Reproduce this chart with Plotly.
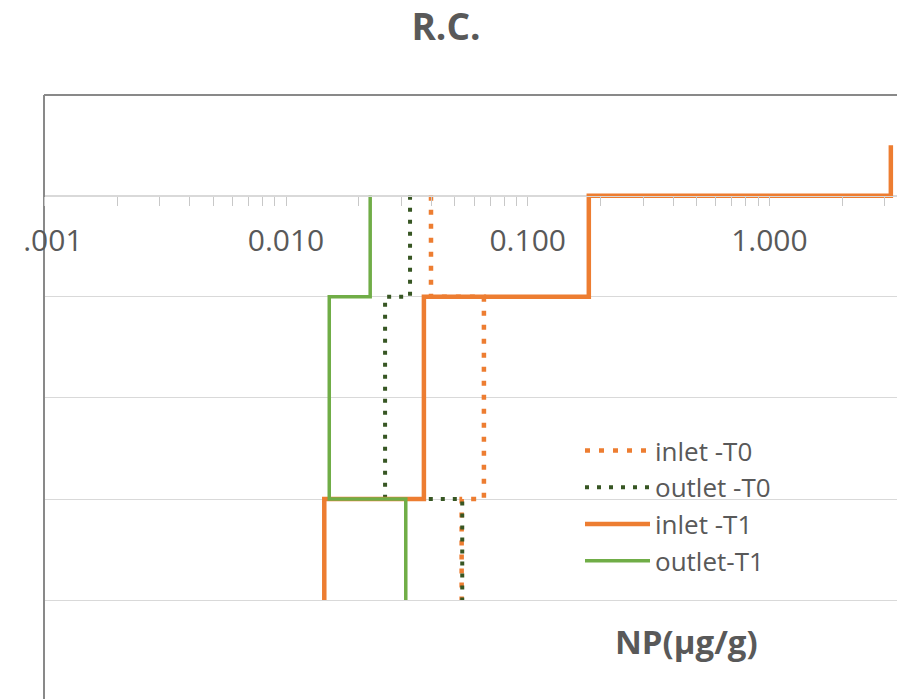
import math
import plotly.graph_objects as go

# ---- data ----
layer_bottom = 4
inlet_T0_tops = [0, 1, 2, 3]
inlet_T0_vals = [0.0398, 0.0659, 0.0659, 0.0533]
outlet_T0_tops = [0, 1, 2, 3]
outlet_T0_vals = [0.0326, 0.0257, 0.0257, 0.0536]
inlet_T1_tops = [-0.5, 0, 1, 2, 3]
inlet_T1_vals = [3.18, 0.179, 0.0372, 0.0372, 0.0144]
outlet_T1_tops = [0, 1, 2, 3]
outlet_T1_vals = [0.0223, 0.0151, 0.0151, 0.0313]

series_names = ["inlet -T0", "outlet -T0", "inlet -T1", "outlet-T1"]
x_tick_vals = [0.001, 0.01, 0.1, 1]
x_tick_text = ["0.001", "0.010", "0.100", "1.000"]
minor_tick_vals = [m * 10 ** e for e in range(-3, 1) for m in range(2, 10)]
title_text = "R.C."
x_title = "NP(µg/g)"

GRAY = "#595959"
FONT = "Open Sans"

def steps(tops, vals):
    return list(vals) + [vals[-1]], list(tops) + [layer_bottom]

styles = [
    dict(color="#ED7D31", width=4.5, dash="5px,9px"),
    dict(color="#375623", width=4, dash="4px,8px"),
    dict(color="#ED7D31", width=4.5),
    dict(color="#70AD47", width=3.5),
]
data = [(inlet_T0_tops, inlet_T0_vals), (outlet_T0_tops, outlet_T0_vals),
        (inlet_T1_tops, inlet_T1_vals), (outlet_T1_tops, outlet_T1_vals)]

fig = go.Figure()
for name, (tops, vals), st in zip(series_names, data, styles):
    xs, ys = steps(tops, vals)
    fig.add_trace(go.Scatter(x=xs, y=ys, mode="lines", name=name,
                             line=dict(shape="vh", **st), hoverinfo="x+y+name"))

W, H = 897, 699
ml, mt = 44, 95
decade = 241.7
x0 = -3 - 0.3 / decade
x1 = x0 + (W - ml) / decade
y_bot, y_top = 4.978, -0.996
x_axis_pos = (y_bot - 0) / (y_bot - y_top)

tick_common = dict(type="log", range=[x0, x1], anchor="free", position=x_axis_pos,
                   tickvals=x_tick_vals, showgrid=False, zeroline=False)

fig.update_layout(
    width=W, height=H,
    margin=dict(l=ml, r=0, t=mt, b=0, pad=0),
    paper_bgcolor="white", plot_bgcolor="white",
    font=dict(family=FONT, color=GRAY),
    title=dict(text=title_text, x=446 / W, xanchor="center", xref="container",
               y=1 - 27 / H, yanchor="middle", yref="container",
               font=dict(family=FONT, size=37, color=GRAY, weight="bold")),
    xaxis=dict(**tick_common,
               showline=True, linecolor="#D9D9D9", linewidth=1,
               ticks="outside", ticklen=9, tickcolor="#C8C8C8", tickwidth=1,
               ticktext=x_tick_text,
               tickfont=dict(family=FONT, size=30, color=GRAY),
               minor=dict(tickvals=minor_tick_vals, ticks="outside", ticklen=9,
                          tickcolor="#C8C8C8", tickwidth=1, showgrid=False),
               ticklabeloverflow="allow", ticklabelstandoff=9),
    xaxis2=dict(**tick_common, overlaying="x", side="bottom",
                showline=False, ticks="inside", ticklen=5, tickcolor="#C8C8C8",
                tickwidth=1, showticklabels=False,
                minor=dict(tickvals=minor_tick_vals, ticks="inside", ticklen=5,
                           tickcolor="#C8C8C8", tickwidth=1, showgrid=False)),
    yaxis=dict(range=[y_bot, y_top], anchor="free", position=0,
               showline=True, linecolor="#898989", linewidth=2,
               showgrid=True, gridcolor="#D9D9D9", gridwidth=1,
               tick0=0, dtick=1, showticklabels=False, ticks="", zeroline=False),
    legend=dict(x=(580 - ml) / (W - ml), xanchor="left", y=(H - 427) / (H - mt), yanchor="top",
                bgcolor="rgba(0,0,0,0)", borderwidth=0, itemwidth=65,
                font=dict(family=FONT, size=26, color=GRAY)),
    shapes=[dict(type="line", xref="paper", yref="paper", x0=0, x1=1, y0=1, y1=1,
                 line=dict(color="#898989", width=2)),
            # the reference image is cropped at its left edge, cutting the first "0"
            dict(type="rect", xref="paper", yref="paper", layer="above",
                 x0=-ml / (W - ml), x1=(23 - ml) / (W - ml),
                 y0=(H - 265) / (H - mt), y1=(H - 215) / (H - mt),
                 fillcolor="white", line=dict(width=0))],
    annotations=[dict(text=x_title, xref="paper", yref="paper",
                      x=(686 - ml) / (W - ml), y=(H - 641) / (H - mt),
                      xanchor="center", yanchor="middle", showarrow=False,
                      font=dict(family=FONT, size=33, color=GRAY, weight="bold"))],
)

fig.write_html("out.html", config={"displayModeBar": False},
               post_script="document.body.style.margin='0';document.body.style.overflow='hidden';")
